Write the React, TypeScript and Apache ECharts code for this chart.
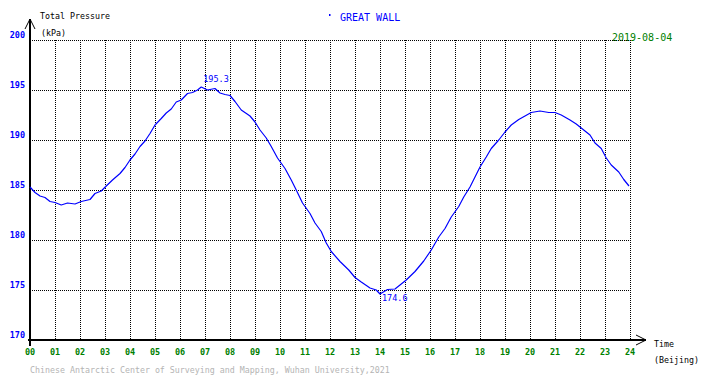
import React, { useEffect, useRef } from "react";
import * as echarts from "echarts";

const hours = [
  0.0, 0.2, 0.4, 0.6, 0.8, 1.0, 1.25, 1.5, 1.8, 2.05, 2.4, 2.6, 2.85, 3.05, 3.3, 3.6, 3.8, 4.0, 4.2, 4.4,
  4.6, 4.8, 5.0, 5.25, 5.45, 5.65, 5.85, 6.05, 6.3, 6.5, 6.7, 6.85, 7.1, 7.4, 7.6, 7.8, 8.0, 8.2, 8.45, 8.8,
  9.0, 9.2, 9.45, 9.65, 9.9, 10.2, 10.45, 10.65, 10.9, 11.2, 11.4, 11.65, 11.85, 12.05, 12.4, 12.75, 13.0,
  13.25, 13.6, 13.85, 14.0, 14.3, 14.6, 14.8, 15.05, 15.4, 15.75, 16.05, 16.35, 16.6, 16.85, 17.15, 17.35,
  17.6, 17.8, 18.0, 18.25, 18.45, 18.75, 19.0, 19.25, 19.55, 19.8, 20.05, 20.4, 20.75, 21.0, 21.25, 21.6,
  21.85, 22.15, 22.4, 22.6, 22.85, 23.05, 23.25, 23.55, 23.75, 23.96,
];

const pressure = [
  185.3, 184.75, 184.4, 184.25, 183.85, 183.75, 183.5, 183.7, 183.6, 183.85, 184.05, 184.65, 184.9, 185.4,
  186.0, 186.65, 187.25, 188.0, 188.6, 189.35, 189.9, 190.65, 191.5, 192.15, 192.7, 193.1, 193.8, 194.0,
  194.65, 194.75, 195.0, 195.3, 195.0, 195.15, 194.7, 194.55, 194.45, 193.85, 193.0, 192.4, 191.8, 191.0,
  190.2, 189.35, 188.2, 187.15, 186.0, 185.0, 183.7, 182.65, 181.7, 180.85, 179.7, 178.85, 177.85, 177.0,
  176.25, 175.8, 175.2, 175.0, 174.6, 175.05, 175.1, 175.5, 176.0, 176.85, 177.9, 179.0, 180.3, 181.15,
  182.3, 183.35, 184.3, 185.3, 186.3, 187.3, 188.3, 189.15, 190.0, 190.8, 191.5, 192.05, 192.4, 192.75,
  192.9, 192.75, 192.75, 192.5, 192.0, 191.6, 191.0, 190.5, 189.7, 189.15, 188.2, 187.5, 186.8, 186.05,
  185.4,
];

const stationName = "GREAT WALL";
const dateLabel = "2019-08-04";
const yAxisTitle = "Total Pressure";
const yAxisUnit = "(kPa)";
const xAxisTitle = "Time";
const xAxisUnit = "(Beijing)";
const footer = "Chinese Antarctic Center of Surveying and Mapping, Wuhan University,2021";

const MONO = '"DejaVu Sans Mono", "Liberation Mono", monospace';

export default function App() {
  const ref = useRef<HTMLDivElement>(null);

  useEffect(() => {
    if (!ref.current) return;
    const chart = echarts.init(ref.current, null, { renderer: "svg" });
    const txt = (text: string, x: number, y: number, fill: string, size: number, extra: any = {}) => ({
      type: "text",
      x,
      y,
      silent: true,
      style: {
        text,
        fill,
        font: `normal ${size}px ${MONO}`,
        align: "left",
        verticalAlign: "middle",
        ...extra,
      },
    });
    const peakLabel = (pos: number[]) => ({
      show: true,
      position: pos,
      align: "left",
      verticalAlign: "middle",
      color: "#0000ff",
      fontFamily: MONO,
      fontSize: 8.5,
      formatter: (p: any) => Number(p.value).toFixed(1),
    });
    chart.setOption({
      animation: false,
      backgroundColor: "#ffffff",
      grid: { left: 30, top: 40, width: 600, height: 300, containLabel: false },
      xAxis: {
        type: "value",
        min: 0,
        max: 24,
        interval: 1,
        axisLine: { show: false },
        axisTick: { show: false },
        axisLabel: {
          color: "#008000",
          fontFamily: MONO,
          fontSize: 8.5,
          fontWeight: "bold",
          margin: 7,
          formatter: (v: number) => String(v).padStart(2, "0"),
        },
        splitLine: { show: true, lineStyle: { color: "#000000", width: 1, type: [1, 1] } },
      },
      yAxis: {
        type: "value",
        min: 170,
        max: 200,
        interval: 5,
        axisLine: { show: false },
        axisTick: { show: false },
        axisLabel: {
          color: "#0000ff",
          fontFamily: MONO,
          fontSize: 8.5,
          fontWeight: "bold",
          margin: 5,
          verticalAlign: "bottom",
          lineHeight: 10,
        },
        splitLine: { show: true, lineStyle: { color: "#000000", width: 1, type: [1, 1] } },
      },
      series: [
        {
          type: "line",
          data: hours.map((h, i) => [h, pressure[i]]),
          showSymbol: false,
          symbol: "none",
          lineStyle: { color: "#0000ff", width: 1.2 },
          markPoint: {
            symbol: "circle",
            symbolSize: 0,
            data: [
              { type: "max", label: peakLabel([2, -8]) },
              { type: "min", label: peakLabel([2, 4]) },
            ],
          },
        },
      ],
      graphic: [
        { type: "line", silent: true, shape: { x1: 30, y1: 346, x2: 30, y2: 19 }, style: { stroke: "#000", lineWidth: 2 } },
        { type: "polyline", silent: true, shape: { points: [[25, 29], [30, 19], [35, 29]] }, style: { stroke: "#000", lineWidth: 1, fill: null } },
        { type: "line", silent: true, shape: { x1: 28, y1: 340, x2: 646, y2: 340 }, style: { stroke: "#000", lineWidth: 2 } },
        { type: "polyline", silent: true, shape: { points: [[636, 335], [646, 340], [636, 345]] }, style: { stroke: "#000", lineWidth: 1, fill: null } },
        { type: "rect", silent: true, shape: { x: 329, y: 14, width: 1.5, height: 2 }, style: { fill: "#0000ff" } },
        txt(stationName, 340, 17, "#0000ff", 10),
        txt(dateLabel, 612, 37, "#008000", 10, { backgroundColor: "#ffffff", padding: [1, 0, 1, 0] }),
        txt(yAxisTitle, 40, 16, "#000000", 8.3),
        txt(yAxisUnit, 41, 33, "#000000", 8.3),
        txt(xAxisTitle, 654, 344, "#000000", 8.3),
        txt(xAxisUnit, 654, 360, "#000000", 8.3),
        txt(footer, 30, 370, "#b4b4b4", 8.3),
      ],
    });
    return () => chart.dispose();
  }, []);

  return <div ref={ref} style={{ position: "absolute", left: 0, top: 0, width: 710, height: 378 }} />;
}
